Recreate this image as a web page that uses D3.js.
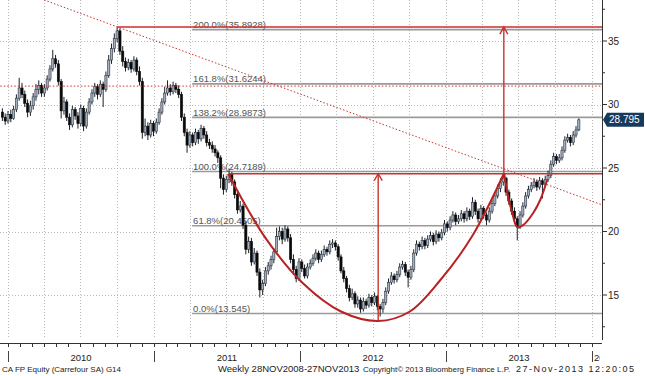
<!DOCTYPE html>
<html>
<head>
<meta charset="utf-8">
<script src="https://cdn.jsdelivr.net/npm/d3@7"></script>
<style>
	body { margin: 0; background: #fff; }
	svg { display: block; font-family: "Liberation Sans", Arial, sans-serif; }
</style>
</head>
<body>
<div id="chart"></div>
<script>
//------------------------------------------------------------------------------
// CA FP Equity - weekly candles, first bar is the week of 18 Dec 2009
//------------------------------------------------------------------------------
var firstWeek = new Date(2009, 11, 18);

var opens = [
	29.4, 29.0, 28.7, 29.2, 28.9, 29.6, 30.5, 31.3, 30.8, 30.1,
	29.4, 29.9, 30.6, 31.2, 31.5, 30.9, 31.3, 32.0, 32.8, 33.6,
	33.2, 31.8, 29.5, 30.2, 29.0, 28.4, 29.6, 29.1, 28.5, 29.7,
	28.3, 29.4, 30.2, 30.9, 31.4, 30.8, 31.6, 31.2, 32.3, 33.5,
	34.4, 35.2, 35.8, 34.2, 33.4, 32.9, 33.3, 32.8, 33.5, 32.6,
	31.8, 27.8, 28.3, 27.6, 28.5, 27.9, 28.6, 29.4, 30.2, 30.9,
	31.3, 31.0, 31.5, 31.2, 30.8, 29.0, 27.8, 26.8, 27.6, 27.0,
	27.8, 27.3, 28.1, 27.6, 27.0, 26.8, 26.5, 26.2, 25.8, 24.2,
	23.3, 24.1, 24.5, 23.9, 22.9, 21.7, 22.0, 20.5, 18.6, 19.2,
	17.6, 18.3, 16.8, 15.4, 15.9, 16.9, 17.3, 17.8, 18.4, 19.6,
	20.0, 19.4, 20.2, 19.5, 17.8, 17.0, 16.3, 17.6, 17.1, 16.5,
	17.2, 17.5, 17.9, 18.3, 17.8, 18.2, 18.6, 18.4, 19.0, 19.1,
	18.8, 18.0, 16.9, 16.3, 15.5, 14.8, 15.1, 14.3, 14.6, 13.9,
	14.5, 14.2, 14.8, 14.4, 14.9, 14.1, 13.9, 14.4, 15.3, 16.0,
	16.5, 16.2, 16.6, 17.2, 17.4, 16.8, 16.4, 17.0, 18.3, 19.0,
	18.8, 19.3, 18.9, 19.4, 19.7, 19.2, 19.8, 19.5, 19.9, 20.6,
	20.3, 20.9, 21.3, 20.8, 21.0, 21.4, 21.0, 21.6, 21.2, 22.3,
	21.6, 21.0, 21.8, 21.3, 20.9, 21.6, 22.2, 22.8, 23.4, 23.9,
	24.2, 23.1, 22.4, 21.6, 21.0, 20.4, 21.3, 22.0, 22.8, 23.3,
	23.6, 23.9, 23.5, 24.0, 23.7, 24.1, 24.4, 25.3, 25.9, 25.6,
	25.8, 26.4, 27.2, 27.4, 27.0, 27.6, 28.0
];
var highs = [
	29.7, 29.3, 29.5, 29.6, 29.9, 30.8, 32.1, 31.7, 31.1, 30.4,
	30.3, 30.9, 31.6, 31.9, 31.7, 31.6, 32.3, 33.1, 34.3, 33.9,
	33.5, 32.0, 30.6, 30.4, 29.3, 29.9, 29.8, 29.4, 30.0, 29.9,
	29.7, 30.5, 31.2, 31.7, 31.6, 31.9, 31.8, 32.6, 33.9, 34.8,
	35.6, 36.1, 36.0, 34.6, 33.7, 33.6, 33.5, 33.8, 33.7, 33.0,
	32.1, 28.9, 28.6, 28.8, 28.7, 28.9, 29.7, 30.5, 31.4, 31.9,
	31.6, 31.8, 31.7, 31.5, 31.0, 29.3, 28.1, 27.9, 27.8, 28.1,
	28.0, 28.4, 28.3, 27.9, 27.3, 27.1, 26.8, 26.4, 26.0, 24.5,
	24.4, 24.9, 24.7, 24.1, 23.1, 22.4, 22.2, 20.8, 19.6, 19.5,
	18.7, 18.5, 17.1, 16.2, 17.2, 17.6, 18.1, 18.7, 20.3, 20.4,
	20.3, 20.5, 20.4, 19.8, 18.2, 17.3, 17.9, 17.8, 17.4, 17.5,
	17.8, 18.2, 18.6, 18.5, 18.5, 18.9, 18.8, 19.3, 19.4, 19.3,
	19.0, 18.2, 17.2, 16.5, 15.8, 15.5, 15.3, 14.9, 14.8, 14.8,
	14.7, 15.1, 15.0, 15.2, 15.0, 14.3, 14.7, 15.6, 16.3, 16.8,
	16.7, 16.9, 17.5, 17.7, 17.6, 17.0, 17.3, 18.6, 19.3, 19.2,
	19.6, 19.5, 19.7, 20.0, 19.9, 20.1, 20.0, 20.2, 20.9, 20.8,
	21.2, 21.6, 21.5, 21.3, 21.7, 21.6, 21.9, 21.8, 22.7, 22.5,
	21.8, 22.1, 22.0, 21.5, 21.9, 22.5, 23.1, 23.7, 24.2, 24.6,
	24.3, 23.3, 22.6, 21.9, 21.2, 21.6, 22.3, 23.1, 23.6, 23.9,
	24.2, 24.1, 24.3, 24.2, 24.4, 24.8, 25.6, 26.2, 26.1, 26.1,
	26.7, 27.5, 27.7, 27.6, 27.9, 28.3, 28.9
];
var lows = [
	28.7, 28.4, 28.5, 28.6, 28.8, 29.4, 30.3, 30.5, 29.8, 29.0,
	29.1, 29.6, 30.3, 30.8, 30.6, 30.6, 31.1, 31.8, 32.6, 32.9,
	31.5, 28.9, 29.2, 28.7, 28.0, 28.2, 28.8, 28.1, 28.3, 27.9,
	28.1, 29.2, 30.0, 30.6, 30.4, 30.6, 29.8, 31.0, 32.1, 33.2,
	34.1, 34.9, 33.9, 33.0, 32.6, 32.7, 32.5, 32.6, 32.3, 31.5,
	27.3, 27.5, 27.2, 27.4, 27.5, 27.7, 28.4, 29.2, 30.0, 30.7,
	30.7, 30.8, 30.9, 30.5, 28.7, 27.5, 26.2, 26.6, 26.7, 26.8,
	26.9, 27.1, 27.3, 26.7, 26.5, 26.2, 25.9, 25.4, 23.4, 22.9,
	23.1, 23.8, 23.6, 22.6, 21.4, 21.5, 20.2, 18.2, 18.3, 17.3,
	17.4, 16.5, 14.8, 15.0, 15.7, 16.6, 17.0, 17.5, 18.2, 19.3,
	19.0, 19.2, 19.2, 17.5, 16.6, 16.0, 16.1, 16.8, 16.3, 16.3,
	17.0, 17.3, 17.7, 17.5, 17.6, 18.0, 18.1, 18.2, 18.7, 18.5,
	17.7, 16.7, 16.0, 15.2, 14.5, 14.6, 14.0, 14.0, 13.6, 13.7,
	13.9, 14.0, 14.1, 14.2, 13.8, 13.3, 13.6, 14.2, 15.1, 15.8,
	15.9, 16.0, 16.4, 17.0, 16.5, 15.6, 16.2, 16.8, 18.1, 18.5,
	18.6, 18.6, 18.7, 19.2, 18.9, 19.0, 19.2, 19.3, 19.7, 20.0,
	20.1, 20.7, 20.5, 20.6, 20.8, 20.7, 20.8, 20.9, 21.0, 21.3,
	20.7, 20.8, 21.0, 20.5, 20.7, 21.4, 22.0, 22.6, 23.1, 23.6,
	22.8, 22.1, 21.3, 20.6, 19.3, 20.2, 21.1, 21.8, 22.6, 23.1,
	23.4, 23.2, 23.3, 22.6, 23.5, 23.9, 24.2, 25.1, 25.3, 25.4,
	25.6, 26.2, 27.0, 26.7, 26.8, 27.4, 27.9
];
var closes = [
	29.0, 28.7, 29.2, 28.9, 29.6, 30.5, 31.3, 30.8, 30.1, 29.4,
	29.9, 30.6, 31.2, 31.5, 30.9, 31.3, 32.0, 32.8, 33.6, 33.2,
	31.8, 29.5, 30.2, 29.0, 28.4, 29.6, 29.1, 28.5, 29.7, 28.3,
	29.4, 30.2, 30.9, 31.4, 30.8, 31.6, 31.2, 32.3, 33.5, 34.4,
	35.2, 35.8, 34.2, 33.4, 32.9, 33.3, 32.8, 33.5, 32.6, 31.8,
	27.8, 28.3, 27.6, 28.5, 27.9, 28.6, 29.4, 30.2, 30.9, 31.3,
	31.0, 31.5, 31.2, 30.8, 29.0, 27.8, 26.8, 27.6, 27.0, 27.8,
	27.3, 28.1, 27.6, 27.0, 26.8, 26.5, 26.2, 25.8, 24.2, 23.3,
	24.1, 24.5, 23.9, 22.9, 21.7, 22.0, 20.5, 18.6, 19.2, 17.6,
	18.3, 16.8, 15.4, 15.9, 16.9, 17.3, 17.8, 18.4, 19.6, 20.0,
	19.4, 20.2, 19.5, 17.8, 17.0, 16.3, 17.6, 17.1, 16.5, 17.2,
	17.5, 17.9, 18.3, 17.8, 18.2, 18.6, 18.4, 19.0, 19.1, 18.8,
	18.0, 16.9, 16.3, 15.5, 14.8, 15.1, 14.3, 14.6, 13.9, 14.5,
	14.2, 14.8, 14.4, 14.9, 14.1, 13.9, 14.4, 15.3, 16.0, 16.5,
	16.2, 16.6, 17.2, 17.4, 16.8, 16.4, 17.0, 18.3, 19.0, 18.8,
	19.3, 18.9, 19.4, 19.7, 19.2, 19.8, 19.5, 19.9, 20.6, 20.3,
	20.9, 21.3, 20.8, 21.0, 21.4, 21.0, 21.6, 21.2, 22.3, 21.6,
	21.0, 21.8, 21.3, 20.9, 21.6, 22.2, 22.8, 23.4, 23.9, 24.2,
	23.1, 22.4, 21.6, 21.0, 20.4, 21.3, 22.0, 22.8, 23.3, 23.6,
	23.9, 23.5, 24.0, 23.7, 24.1, 24.4, 25.3, 25.9, 25.6, 25.8,
	26.4, 27.2, 27.4, 27.0, 27.6, 28.0, 28.795
];
var lastPrice = 28.795;

// fibonacci extension levels
var fibPcts = ['200.0%', '161.8%', '138.2%', '100.0%', '61.8%', '0.0%'];
var fibValues = [35.8928, 31.6244, 28.9873, 24.7189, 20.4505, 13.545];
var fibStartWeek = 67.8;

// hand drawn annotations, [week index, price]
var cupPoints = [[80.7, 24.55], [94, 19.5], [107.5, 15.9], [121, 13.7], [134.3, 12.95],
	[145.6, 13.7], [156.6, 16.2], [167.8, 19.6], [179.2, 24.55]];
var handlePoints = [[179.3, 24.6], [180.8, 22.7], [182.2, 21.46], [184, 20.35], [186.1, 20.5],
	[189.7, 21.46], [192.2, 22.48], [194.7, 24.06]];
var trendPoints = [[14.9, 38.23], [214.4, 22.09]];
var levelLines = [
	{ week: 41, v: 36.1, dotted: false },
	{ week: -2, v: 31.45, dotted: true },
	{ week: 81, v: 24.55, dotted: false }
];
var arrows = [
	{ week: 134.3, from: 12.95, to: 24.55 },
	{ week: 179.2, from: 24.55, to: 36.1 }
];

var footer = [
	{ t: 'CA FP Equity (Carrefour SA) G14', x: 2, size: 8, sp: 0 },
	{ t: 'Weekly 28NOV2008-27NOV2013', x: 218, size: 9.5, sp: 0 },
	{ t: 'Copyright\u00a9 2013 Bloomberg Finance L.P.', x: 363, size: 8, sp: 0 },
	{ t: '27-Nov-2013 12:20:05', x: 516, size: 9, sp: 1.5 }
];

//------------------------------------------------------------------------------
var W = 645, H = 376;
var plotR = 602, plotB = 340;
var red = '#c8322e';

function weekDate(i) {
	return new Date(firstWeek.getTime() + i * 7 * 864e5);
}

var x = d3.scaleTime()
	.domain([new Date(2010, 0, 1), new Date(2014, 0, 1)])
	.range([8, 592]);
var y = d3.scaleLinear()
	.domain([15, 35])
	.range([295, 41]);

var svg = d3.select('#chart').append('svg')
	.attr('width', W)
	.attr('height', H);

var defs = svg.append('defs');
defs.append('clipPath').attr('id', 'plot-clip')
	.append('rect')
		.attr('x', 0).attr('y', 0)
		.attr('width', plotR).attr('height', plotB);
defs.append('clipPath').attr('id', 'year-clip')
	.append('rect').attr('x', 0).attr('y', 340).attr('width', plotR - 2).attr('height', 30);

var yTop = y.invert(0), yBot = y.invert(plotB);
var yMajor = d3.scaleLinear().domain([yBot, yTop]).ticks(5);

//--- grid ---------------------------------------------------------------------
var grid = svg.append('g')
	.attr('stroke', '#b9b9b9')
	.attr('stroke-width', 1)
	.attr('stroke-dasharray', '1,2');

grid.selectAll('.h-grid')
	.data(yMajor)
	.enter().append('line')
	.attr('x1', 0).attr('x2', plotR)
	.attr('y1', function(d) { return Math.round(y(d)) + 0.5; })
	.attr('y2', function(d) { return Math.round(y(d)) + 0.5; });

var quarters = d3.timeMonth.every(3).range(new Date(2010, 0, 1), new Date(2014, 0, 2));
grid.selectAll('.v-grid')
	.data(quarters)
	.enter().append('line')
	.attr('y1', 0).attr('y2', plotB - 3)
	.attr('x1', function(d) { return Math.round(x(d)) + 0.5; })
	.attr('x2', function(d) { return Math.round(x(d)) + 0.5; });

var plot = svg.append('g').attr('clip-path', 'url(#plot-clip)');

//--- fib levels (gray) --------------------------------------------------------
var fibs = fibValues.map(function(v, i) { return { v: v, p: fibPcts[i] }; });
var fibX = x(weekDate(fibStartWeek));

plot.selectAll('.fib-line')
	.data(fibs)
	.enter().append('line')
	.attr('x1', fibX).attr('x2', plotR)
	.attr('y1', function(d) { return y(d.v); })
	.attr('y2', function(d) { return y(d.v); })
	.attr('stroke', '#9a9a9a')
	.attr('stroke-width', 1.6);

plot.selectAll('.fib-text')
	.data(fibs)
	.enter().append('text')
	.attr('x', fibX + 1)
	.attr('y', function(d) { return y(d.v) - 1.5; })
	.attr('font-size', '9.5px')
	.attr('fill', '#555')
	.text(function(d) { return d.p + '(' + d.v + ')'; });

//--- candles ------------------------------------------------------------------
var candles = closes.map(function(c, i) {
	return { d: weekDate(i), o: opens[i], h: highs[i], l: lows[i], c: c };
});

var cg = plot.append('g');
cg.selectAll('.wick')
	.data(candles)
	.enter().append('line')
	.attr('x1', function(d) { return x(d.d); })
	.attr('x2', function(d) { return x(d.d); })
	.attr('y1', function(d) { return y(d.h); })
	.attr('y2', function(d) { return y(d.l); })
	.attr('stroke', '#1b2129')
	.attr('stroke-width', 1);

cg.selectAll('.body')
	.data(candles)
	.enter().append('rect')
	.attr('x', function(d) { return x(d.d) - 1.1; })
	.attr('width', 2.2)
	.attr('y', function(d) { return y(Math.max(d.o, d.c)); })
	.attr('height', function(d) { return Math.max(1, Math.abs(y(d.o) - y(d.c))); })
	.attr('fill', function(d) { return d.c >= d.o ? '#a3b0c0' : '#0a0a0a'; })
	.attr('stroke', function(d) { return d.c >= d.o ? '#2c3541' : '#0a0a0a'; })
	.attr('stroke-width', 0.6);

//--- red annotations ----------------------------------------------------------
var line = d3.line()
	.x(function(d) { return x(weekDate(d[0])); })
	.y(function(d) { return y(d[1]); });

plot.append('path')
	.attr('d', line(trendPoints))
	.attr('fill', 'none')
	.attr('stroke', red)
	.attr('stroke-width', 1)
	.attr('stroke-dasharray', '1.5,2');

plot.selectAll('.level')
	.data(levelLines)
	.enter().append('line')
	.attr('x1', function(d) { return x(weekDate(d.week)); })
	.attr('x2', plotR)
	.attr('y1', function(d) { return y(d.v); })
	.attr('y2', function(d) { return y(d.v); })
	.attr('stroke', red)
	.attr('stroke-width', function(d) { return d.dotted ? 1 : 1.6; })
	.attr('stroke-dasharray', function(d) { return d.dotted ? '1.5,2' : null; });

var curved = d3.line()
	.x(function(d) { return x(weekDate(d[0])); })
	.y(function(d) { return y(d[1]); })
	.curve(d3.curveCatmullRom.alpha(0.5));

plot.append('path')
	.attr('d', curved(cupPoints))
	.attr('fill', 'none')
	.attr('stroke', '#b82222')
	.attr('stroke-width', 2);
plot.append('path')
	.attr('d', curved(handlePoints))
	.attr('fill', 'none')
	.attr('stroke', '#b82222')
	.attr('stroke-width', 2);

var ag = plot.selectAll('.arrow')
	.data(arrows)
	.enter().append('g')
	.attr('stroke', red)
	.attr('fill', 'none')
	.attr('stroke-width', 1.4);
ag.append('line')
	.attr('x1', function(d) { return x(weekDate(d.week)); })
	.attr('x2', function(d) { return x(weekDate(d.week)); })
	.attr('y1', function(d) { return y(d.from); })
	.attr('y2', function(d) { return y(d.to); });
ag.append('path')
	.attr('d', function(d) {
		var ax = x(weekDate(d.week)), ay = y(d.to);
		return 'M' + (ax - 4) + ',' + (ay + 7) + 'L' + ax + ',' + ay + 'L' + (ax + 4) + ',' + (ay + 7);
	});

//--- right axis ---------------------------------------------------------------
svg.append('line')
	.attr('x1', plotR + 0.5).attr('x2', plotR + 0.5)
	.attr('y1', 0).attr('y2', plotB)
	.attr('stroke', '#333');

var minor = d3.pairs(yMajor).map(function(p) { return (p[0] + p[1]) / 2; })
	.concat([yMajor[0] - 2.5, yMajor[yMajor.length - 1] + 2.5])
	.filter(function(v) { return v > yBot && v < yTop; });

svg.selectAll('.ytick')
	.data(yMajor)
	.enter().append('line')
	.attr('x1', plotR).attr('x2', plotR + 5)
	.attr('y1', function(d) { return y(d); })
	.attr('y2', function(d) { return y(d); })
	.attr('stroke', '#333');
svg.selectAll('.ytick-minor')
	.data(minor)
	.enter().append('line')
	.attr('x1', plotR).attr('x2', plotR + 3)
	.attr('y1', function(d) { return y(d); })
	.attr('y2', function(d) { return y(d); })
	.attr('stroke', '#333');
svg.selectAll('.ylabel')
	.data(yMajor)
	.enter().append('text')
	.attr('x', plotR + 6)
	.attr('y', function(d) { return y(d) + 3.5; })
	.attr('font-size', '10px')
	.attr('fill', '#222')
	.text(function(d) { return d; });

// last price tag
var lp = y(lastPrice);
svg.append('path')
	.attr('d', 'M' + (plotR + 1) + ',' + lp + 'L' + (plotR + 5) + ',' + (lp - 7) + 'L' + (W - 1) + ',' + (lp - 7) +
		'L' + (W - 1) + ',' + (lp + 7) + 'L' + (plotR + 5) + ',' + (lp + 7) + 'Z')
	.attr('fill', '#163a5c');
svg.append('text')
	.attr('x', plotR + 7)
	.attr('y', lp + 3.5)
	.attr('font-size', '10px')
	.attr('fill', '#fff')
	.text(lastPrice);

//--- bottom axis --------------------------------------------------------------
var axY = 343;
svg.append('line')
	.attr('x1', 0).attr('x2', plotR)
	.attr('y1', axY + 0.5).attr('y2', axY + 0.5)
	.attr('stroke', '#333');

var months = d3.timeMonth.range(x.invert(0), x.invert(plotR));
svg.selectAll('.mtick')
	.data(months)
	.enter().append('line')
	.attr('x1', function(d) { return Math.round(x(d)) + 0.5; })
	.attr('x2', function(d) { return Math.round(x(d)) + 0.5; })
	.attr('y1', axY).attr('y2', axY + 4)
	.attr('stroke', '#333');

var years = d3.timeYear.range(new Date(2010, 0, 1), x.invert(plotR));
svg.selectAll('.ysep')
	.data(years)
	.enter().append('line')
	.attr('x1', function(d) { return Math.round(x(d)) + 0.5; })
	.attr('x2', function(d) { return Math.round(x(d)) + 0.5; })
	.attr('y1', 351).attr('y2', 362)
	.attr('stroke', '#444');

function yearSpan(d) {
	return Math.min(x(d3.timeYear.offset(d, 1)), plotR) - x(d);
}

// last year only has room for its first digit, like the original
svg.append('g').attr('clip-path', 'url(#year-clip)')
	.selectAll('.ylab')
	.data(years)
	.enter().append('text')
	.attr('x', function(d) {
		return yearSpan(d) > 40 ? x(d) + yearSpan(d) / 2 : x(d) + 2;
	})
	.attr('text-anchor', function(d) { return yearSpan(d) > 40 ? 'middle' : 'start'; })
	.attr('y', 361)
	.attr('font-size', '9.5px')
	.attr('fill', '#222')
	.text(function(d) { return d.getFullYear(); });

svg.selectAll('.foot')
	.data(footer)
	.enter().append('text')
	.attr('x', function(d) { return d.x; })
	.attr('y', 372)
	.attr('font-size', function(d) { return d.size + 'px'; })
	.attr('letter-spacing', function(d) { return d.sp; })
	.attr('fill', '#222')
	.text(function(d) { return d.t; });
</script>
</body>
</html>
